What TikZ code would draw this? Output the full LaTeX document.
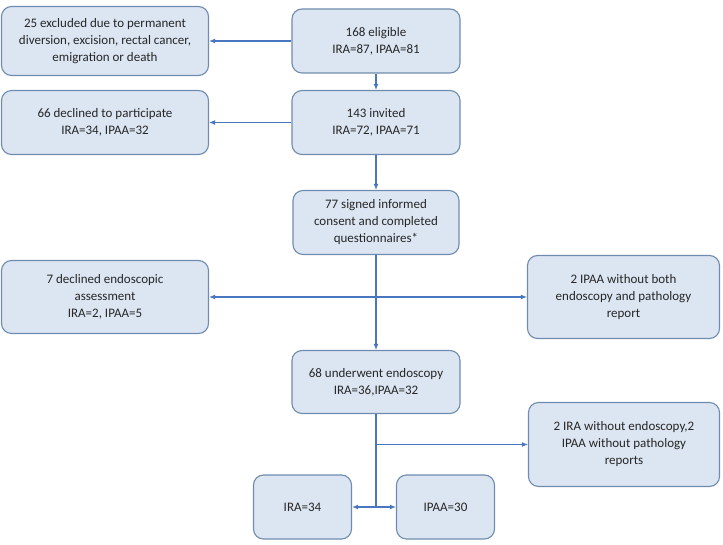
\documentclass[tikz,border=0pt]{standalone}
\usepackage{fontspec}
\setmainfont{Carlito}
\usetikzlibrary{arrows.meta}
\definecolor{boxfill}{HTML}{DCE6F2}
\definecolor{boxline}{HTML}{6F8CAE}
\definecolor{arrcol}{HTML}{4A76C0}
\begin{document}
\begin{tikzpicture}[x=1pt,y=-1pt,
  box/.style={draw=boxline,fill=boxfill,line width=1.1pt,rounded corners=10pt,
    align=center,inner sep=2pt,font=\fontsize{13}{17}\selectfont,text=black!85},
  arr/.style={draw=arrcol,line width=1.1pt,-{Latex[length=6pt,width=5pt]}},
  ln/.style={draw=arrcol,line width=1.1pt}]
\useasboundingbox (0,0) rectangle (723,545);
\node[box,minimum width=207pt,minimum height=69pt] (excl) at (105,41) {25 excluded due to permanent\\diversion, excision, rectal cancer,\\emigration or death};
\node[box,minimum width=168pt,minimum height=64pt] (elig) at (376,41) {168 eligible\\IRA=87, IPAA=81};
\node[box,minimum width=207pt,minimum height=64pt] (decl) at (105,122.5) {66 declined to participate\\IRA=34, IPAA=32};
\node[box,minimum width=168pt,minimum height=64pt] (inv) at (376,122.5) {143 invited\\IRA=72, IPAA=71};
\node[box,minimum width=166pt,minimum height=64pt] (sign) at (376,222.5) {77 signed informed\\consent and completed\\questionnaires*};
\node[box,minimum width=207pt,minimum height=73pt] (edecl) at (105,297) {7 declined endoscopic\\assessment\\IRA=2, IPAA=5};
\node[box,minimum width=192pt,minimum height=83pt] (both) at (623.5,297) {2 IPAA without both\\endoscopy and pathology\\report};
\node[box,minimum width=168pt,minimum height=63pt] (under) at (376,382) {68 underwent endoscopy\\IRA=36,IPAA=32};
\node[box,minimum width=191pt,minimum height=84pt] (miss) at (624,444.5) {2 IRA without endoscopy,2\\IPAA without pathology\\reports};
\node[box,minimum width=98pt,minimum height=64pt] (ira) at (302.5,507) {IRA=34};
\node[box,minimum width=98pt,minimum height=64pt] (ipaa) at (445.5,507) {IPAA=30};
\coordinate (j1) at (376,297);
\coordinate (j2) at (376,444.5);
\coordinate (j3) at (376,507);
\draw[arr] (elig) -- (excl);
\draw[arr] (elig) -- (inv);
\draw[arr] (inv) -- (decl);
\draw[arr] (inv) -- (sign);
\draw[arr] (sign) -- (under);
\draw[arr] (j1) -- (edecl);
\draw[arr] (j1) -- (both);
\draw[ln] (under.south) -- (j3);
\draw[arr] (j2) -- (miss);
\draw[arr] (j3) -- (ira);
\draw[arr] (j3) -- (ipaa);
\end{tikzpicture}
\end{document}
